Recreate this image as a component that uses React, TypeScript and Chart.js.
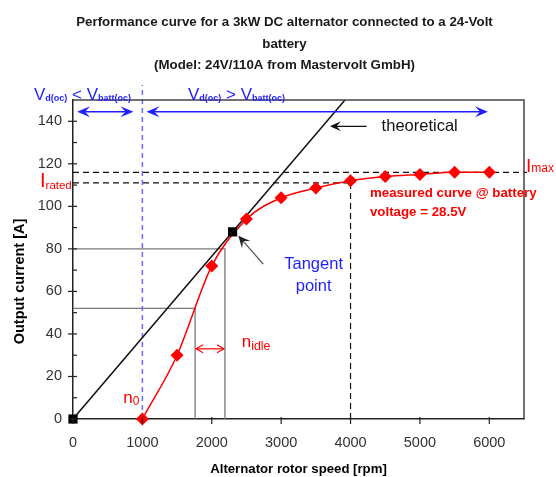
import { useEffect, useRef } from "react";
import { Chart, registerables } from "chart.js";
Chart.register(...registerables);

// ---- data ----
const SPEED_RPM = [1000, 1500, 2000, 2500, 3000, 3500, 4000, 4500, 5000, 5500, 6000];
const MEASURED_A = [0, 30, 72, 94, 104, 108.6, 112, 114, 115, 116, 116];
const THEORETICAL_RPM = [0, 3920];
const THEORETICAL_A = [0, 150];
const KEY_POINT_RPM = [0, 2300];
const KEY_POINT_A = [0, 88];
const X_TICKS = [0, 1000, 2000, 3000, 4000, 5000, 6000];
const Y_TICKS = [0, 20, 40, 60, 80, 100, 120, 140];
const Y_MINOR = [10, 30, 50, 70, 90, 110, 130];
const I_MAX = 116;
const I_RATED = 111;
const RATED_RPM = 4000;
const N0_RPM = 1000;
const IDLE_RPM = [1760, 2190];
const IDLE_A = [52, 80];
const IDLE_ARROW_A = 33;
const REGION_ARROW_A = 144.5;
const REGION_LEFT_RPM = [60, 870];
const REGION_RIGHT_RPM = [1060, 5980];

const TITLE_LINES = [
  "Performance curve for a 3kW DC alternator connected to a 24-Volt",
  "battery",
  "(Model: 24V/110A from Mastervolt GmbH)",
];
const X_TITLE = "Alternator rotor speed [rpm]";
const Y_TITLE = "Output current [A]";

const FAM = '"Liberation Sans", Arial, sans-serif';
const RED = "#ff0000";
const BLUE = "#1f1fff";

type Run = { t: string; font: string; dy?: number };
function drawRuns(ctx: CanvasRenderingContext2D, x: number, y: number, runs: Run[], align: "left" | "center" = "left") {
  let total = 0;
  for (const r of runs) {
    ctx.font = r.font;
    total += ctx.measureText(r.t).width;
  }
  let cx = align === "center" ? x - total / 2 : x;
  ctx.textAlign = "left";
  ctx.textBaseline = "alphabetic";
  for (const r of runs) {
    ctx.font = r.font;
    ctx.fillText(r.t, cx, y + (r.dy || 0));
    cx += ctx.measureText(r.t).width;
  }
}

function seg(ctx: CanvasRenderingContext2D, x1: number, y1: number, x2: number, y2: number) {
  ctx.beginPath();
  ctx.moveTo(x1, y1);
  ctx.lineTo(x2, y2);
  ctx.stroke();
}

function head(ctx: CanvasRenderingContext2D, tx: number, ty: number, ang: number, len: number, hw: number, filled: boolean) {
  const bx = tx - Math.cos(ang) * len;
  const by = ty - Math.sin(ang) * len;
  const nx = -Math.sin(ang) * hw;
  const ny = Math.cos(ang) * hw;
  ctx.beginPath();
  if (filled) {
    const mx = tx - Math.cos(ang) * len * 0.6;
    const my = ty - Math.sin(ang) * len * 0.6;
    ctx.moveTo(tx, ty);
    ctx.lineTo(bx + nx, by + ny);
    ctx.lineTo(mx, my);
    ctx.lineTo(bx - nx, by - ny);
    ctx.closePath();
    ctx.fill();
  } else {
    ctx.moveTo(bx + nx, by + ny);
    ctx.lineTo(tx, ty);
    ctx.lineTo(bx - nx, by - ny);
    ctx.stroke();
  }
}

const annot = {
  id: "annot",
  beforeDatasetsDraw(chart: any) {
    const { ctx, chartArea: a } = chart;
    const X = (v: number) => chart.scales.x.getPixelForValue(v);
    const Y = (v: number) => chart.scales.y.getPixelForValue(v);
    ctx.save();
    ctx.setLineDash([]);
    ctx.strokeStyle = "#7a7a7a";
    ctx.lineWidth = 1.3;
    for (let i = 0; i < IDLE_RPM.length; i++) {
      ctx.beginPath();
      ctx.moveTo(a.left, Y(IDLE_A[i]));
      ctx.lineTo(X(IDLE_RPM[i]), Y(IDLE_A[i]));
      ctx.lineTo(X(IDLE_RPM[i]), a.bottom);
      ctx.stroke();
    }
    ctx.strokeStyle = "#111";
    ctx.lineWidth = 1.2;
    ctx.setLineDash([6, 4]);
    seg(ctx, a.left, Y(I_MAX), a.right + 3, Y(I_MAX));
    seg(ctx, a.left, Y(I_RATED), X(RATED_RPM), Y(I_RATED));
    seg(ctx, X(RATED_RPM), Y(I_RATED), X(RATED_RPM), a.bottom);
    ctx.strokeStyle = "#6b6bff";
    ctx.lineWidth = 1.5;
    ctx.setLineDash([5, 4]);
    seg(ctx, X(N0_RPM), a.bottom, X(N0_RPM), a.top - 15);
    ctx.restore();
  },
  afterDraw(chart: any) {
    const { ctx, chartArea: a } = chart;
    const X = (v: number) => chart.scales.x.getPixelForValue(v);
    const Y = (v: number) => chart.scales.y.getPixelForValue(v);
    ctx.save();
    ctx.setLineDash([]);
    ctx.strokeStyle = "#444";
    ctx.lineWidth = 1.5;
    ctx.beginPath();
    ctx.moveTo(a.left, a.top);
    ctx.lineTo(a.right, a.top);
    ctx.lineTo(a.right, a.bottom);
    ctx.stroke();
    ctx.strokeStyle = "#222";
    ctx.lineWidth = 1.2;
    for (const v of Y_TICKS) seg(ctx, a.left - 5, Y(v), a.left + 4, Y(v));
    for (const v of Y_MINOR) seg(ctx, a.left - 1, Y(v), a.left + 4, Y(v));
    for (const v of X_TICKS) seg(ctx, X(v), a.bottom - 2, X(v), a.bottom + 5);

    ctx.fillStyle = "#1a1a1a";
    ctx.textAlign = "center";
    ctx.textBaseline = "alphabetic";
    ctx.font = `bold 13.3px ${FAM}`;
    const tb = [26, 47.5, 69];
    TITLE_LINES.forEach((t, i) => ctx.fillText(t, 284.5, tb[i]));
    ctx.fillStyle = "#000";
    ctx.font = `bold 13.2px ${FAM}`;
    ctx.fillText(X_TITLE, 298.5, 473);
    ctx.save();
    ctx.translate(20, 281.5);
    ctx.rotate(-Math.PI / 2);
    ctx.textBaseline = "middle";
    ctx.font = `bold 14.5px ${FAM}`;
    ctx.fillText(Y_TITLE, 0, 0);
    ctx.restore();

    ctx.fillStyle = BLUE;
    const big = `17px ${FAM}`;
    const sub = `bold 9px ${FAM}`;
    drawRuns(ctx, a.left - 39, 100 - 0.5, [
      { t: "V", font: big },
      { t: "d(oc)", font: sub, dy: 1.5 },
      { t: " < ", font: big },
      { t: "V", font: big },
      { t: "batt(oc)", font: sub, dy: 1.5 },
    ]);
    drawRuns(ctx, a.left + 115, 100 - 0.5, [
      { t: "V", font: big },
      { t: "d(oc)", font: sub, dy: 1.5 },
      { t: " > ", font: big },
      { t: "V", font: big },
      { t: "batt(oc)", font: sub, dy: 1.5 },
    ]);
    ctx.strokeStyle = BLUE;
    ctx.fillStyle = BLUE;
    ctx.lineWidth = 1.5;
    const ay = Y(REGION_ARROW_A);
    for (const [r1, r2] of [REGION_LEFT_RPM, REGION_RIGHT_RPM]) {
      const x1 = X(r1), x2 = X(r2);
      seg(ctx, x1 + 4, ay, x2 - 4, ay);
      head(ctx, x1, ay, Math.PI, 13, 5.5, true);
      head(ctx, x2, ay, 0, 13, 5.5, true);
    }

    ctx.fillStyle = "#111";
    ctx.strokeStyle = "#111";
    ctx.font = `16.5px ${FAM}`;
    ctx.textAlign = "left";
    ctx.textBaseline = "middle";
    ctx.fillText("theoretical", X(4448), Y(137.6));
    ctx.lineWidth = 1.3;
    seg(ctx, X(4232), Y(137.6), X(3703) + 4, Y(137.6));
    head(ctx, X(3703), Y(137.6), Math.PI, 11, 5, true);

    ctx.strokeStyle = "#555";
    ctx.fillStyle = "#222";
    ctx.lineWidth = 1.3;
    const tx1 = X(2742), ty1 = Y(72.8), tx2 = X(2382), ty2 = Y(86.2);
    const ang = Math.atan2(ty2 - ty1, tx2 - tx1);
    seg(ctx, tx1, ty1, tx2 - Math.cos(ang) * 5, ty2 - Math.sin(ang) * 5);
    head(ctx, tx2, ty2, ang, 12, 5.5, true);
    ctx.fillStyle = BLUE;
    ctx.textAlign = "center";
    ctx.textBaseline = "middle";
    ctx.font = `16.5px ${FAM}`;
    ctx.fillText("Tangent", X(3468), Y(72.5));
    ctx.fillText("point", X(3468), Y(62.1));

    ctx.fillStyle = RED;
    ctx.textAlign = "left";
    ctx.font = `bold 13.3px ${FAM}`;
    ctx.fillText("measured curve @ battery", X(4280), Y(105.9));
    ctx.fillText("voltage = 28.5V", X(4280), Y(97));

    drawRuns(ctx, a.right + 2, Y(I_MAX) - 0.3, [
      { t: "I", font: `19px ${FAM}` },
      { t: "max", font: `12px ${FAM}`, dy: 0 },
    ]);
    drawRuns(ctx, a.left - 33, Y(I_RATED) + 4, [
      { t: "I", font: `20px ${FAM}` },
      { t: "rated", font: `11.5px ${FAM}`, dy: 2 },
    ]);
    drawRuns(ctx, X(725), Y(7.5), [
      { t: "n", font: `17px ${FAM}` },
      { t: "0", font: `12px ${FAM}`, dy: 2 },
    ]);
    drawRuns(ctx, X(2431), Y(34), [
      { t: "n", font: `17px ${FAM}` },
      { t: "idle", font: `12.4px ${FAM}`, dy: 3 },
    ]);
    ctx.strokeStyle = RED;
    ctx.lineWidth = 1.2;
    const iy = Y(IDLE_ARROW_A);
    seg(ctx, X(IDLE_RPM[0]) + 1, iy, X(IDLE_RPM[1]) - 1, iy);
    head(ctx, X(IDLE_RPM[0]) + 1, iy, Math.PI, 7, 4, false);
    head(ctx, X(IDLE_RPM[1]) - 1, iy, 0, 7, 4, false);
    ctx.restore();
  },
};

export default function App() {
  const ref = useRef<HTMLCanvasElement>(null);
  useEffect(() => {
    const chart = new Chart(ref.current!, {
      type: "line",
      data: {
        datasets: [
          {
            label: "measured",
            data: SPEED_RPM.map((s, i) => ({ x: s, y: MEASURED_A[i] })),
            borderColor: RED,
            backgroundColor: RED,
            borderWidth: 1.5,
            pointStyle: "rectRot",
            pointRadius: 6.5,
            pointBorderWidth: 0,
            cubicInterpolationMode: "monotone",
            clip: false,
            order: 1,
          },
          {
            label: "theoretical",
            data: THEORETICAL_RPM.map((s, i) => ({ x: s, y: THEORETICAL_A[i] })),
            borderColor: "#111",
            borderWidth: 1.5,
            pointRadius: 0,
            order: 2,
          },
          {
            label: "key points",
            data: KEY_POINT_RPM.map((s, i) => ({ x: s, y: KEY_POINT_A[i] })),
            showLine: false,
            borderColor: "#000",
            backgroundColor: "#000",
            pointStyle: "rect",
            pointRadius: 6.5,
            pointBorderWidth: 0,
            clip: false,
            order: 0,
          },
        ],
      } as any,
      options: {
        responsive: false,
        devicePixelRatio: 1,
        animation: false,
        layout: { padding: { top: 100, right: 32, left: 0, bottom: 0 } },
        plugins: { legend: { display: false }, tooltip: { enabled: false }, title: { display: false } },
        scales: {
          x: {
            type: "linear",
            min: 0,
            max: 6500,
            afterBuildTicks: (s: any) => {
              s.ticks = X_TICKS.map((v) => ({ value: v }));
            },
            afterFit: (s: any) => {
              s.height = 58;
            },
            grid: { display: false, drawTicks: false },
            border: { display: true, color: "#222", width: 1.5 },
            ticks: {
              font: { family: FAM, size: 14.5 },
              color: "#333",
              padding: 15,
              maxRotation: 0,
              autoSkip: false,
              callback: (v: any) => String(v),
            },
          },
          y: {
            type: "linear",
            min: 0,
            max: 150,
            afterBuildTicks: (s: any) => {
              s.ticks = Y_TICKS.map((v) => ({ value: v }));
            },
            afterFit: (s: any) => {
              s.width = 73;
            },
            grid: { display: false, drawTicks: false },
            border: { display: true, color: "#222", width: 1.5 },
            ticks: {
              font: { family: FAM, size: 14.5 },
              color: "#333",
              padding: 11,
              autoSkip: false,
              callback: (v: any) => String(v),
            },
          },
        },
      } as any,
      plugins: [annot],
    });
    return () => chart.destroy();
  }, []);
  return (
    <div style={{ position: "fixed", left: 0, top: 0, width: 556, height: 477, background: "#fff" }}>
      <canvas ref={ref} width={556} height={477} style={{ display: "block", width: 556, height: 477 }} />
    </div>
  );
}
